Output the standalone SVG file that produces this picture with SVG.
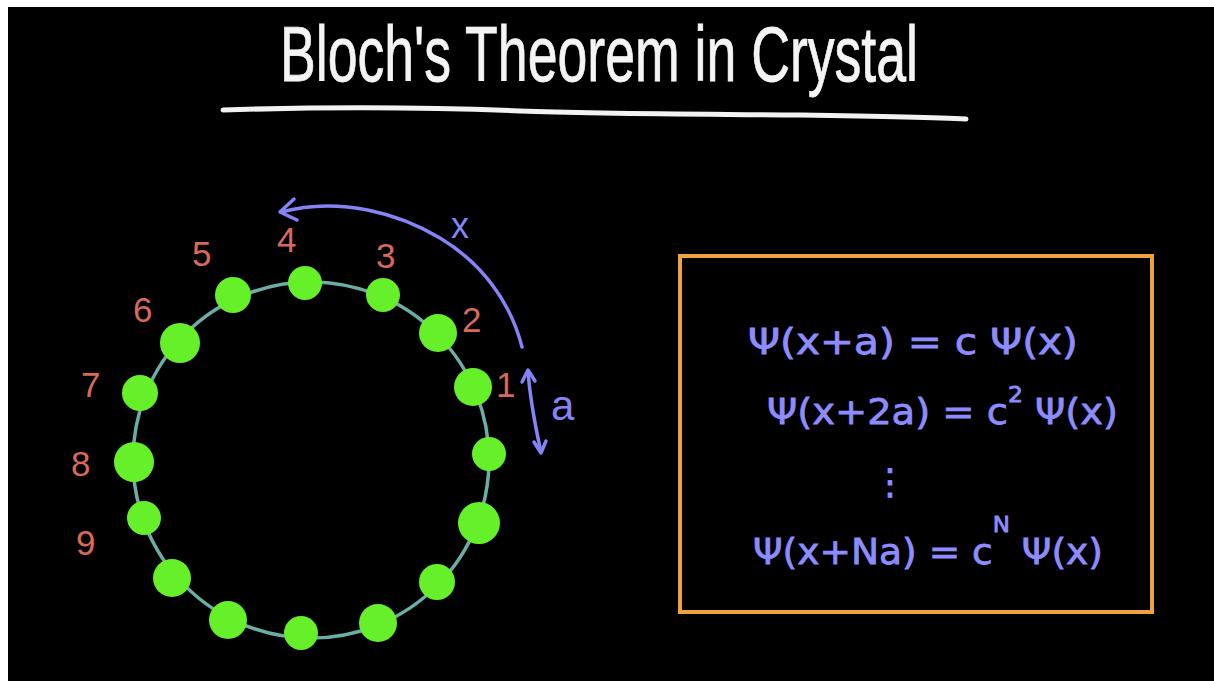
<svg xmlns="http://www.w3.org/2000/svg" width="1214" height="681" viewBox="0 0 1214 681">
<style>
.num{font-family:"Liberation Sans",sans-serif;font-size:35px;fill:#d86a5c}
.eq{font-family:"DejaVu Sans","Liberation Sans",sans-serif;font-size:36px;fill:#8d8cff;stroke:#8d8cff;stroke-width:0.8}
.sup{font-size:22px}
.dot{fill:#66f02a}
.blue{fill:none;stroke:#8583f5;stroke-width:3.5;stroke-linecap:round;stroke-linejoin:round}
</style>
<rect x="0" y="0" width="1214" height="681" fill="#ffffff"/>
<rect x="8" y="7" width="1206" height="674" fill="#000000"/>
<g id="title">
<text x="280" y="81" font-family="Liberation Sans Narrow,Liberation Sans,sans-serif" font-size="78" fill="#f4f4f4" stroke="#f4f4f4" stroke-width="0.8" textLength="638" lengthAdjust="spacingAndGlyphs">Bloch's Theorem in Crystal</text>
<path d="M223 110 C350 106 450 108 520 111 C600 114 700 114 800 115 C870 116 930 117 966 119" fill="none" stroke="#f2f2f2" stroke-width="5" stroke-linecap="round"/>
</g>
<g id="ring">
<circle cx="311" cy="460" r="178" fill="none" stroke="#6aaea6" stroke-width="3.5"/>
</g>
<g id="atoms">
<circle class="dot" cx="233" cy="295" r="18"/>
<circle class="dot" cx="305" cy="283" r="17"/>
<circle class="dot" cx="383" cy="295" r="17"/>
<circle class="dot" cx="438" cy="333" r="19"/>
<circle class="dot" cx="473" cy="387" r="19"/>
<circle class="dot" cx="489" cy="454" r="17"/>
<circle class="dot" cx="479" cy="523" r="21"/>
<circle class="dot" cx="437" cy="582" r="18"/>
<circle class="dot" cx="378" cy="623" r="19"/>
<circle class="dot" cx="301" cy="633" r="17"/>
<circle class="dot" cx="228" cy="620" r="19"/>
<circle class="dot" cx="172" cy="578" r="19"/>
<circle class="dot" cx="144" cy="518" r="17"/>
<circle class="dot" cx="134" cy="462" r="20"/>
<circle class="dot" cx="140" cy="393" r="18"/>
<circle class="dot" cx="180" cy="343" r="20"/>
</g>
<g id="labels">
<text class="num" x="496" y="397">1</text>
<text class="num" x="462" y="332">2</text>
<text class="num" x="376" y="268">3</text>
<text class="num" x="277" y="252">4</text>
<text class="num" x="192" y="266">5</text>
<text class="num" x="133" y="322">6</text>
<text class="num" x="81" y="397">7</text>
<text class="num" x="71" y="476">8</text>
<text class="num" x="76" y="555">9</text>
</g>
<g id="connectors">
<path class="blue" d="M522 347 C510 300 480 262 440 238 C400 214 340 196 281 212"/>
<path class="blue" d="M294 199 L280 212 L297 220"/>
<path class="blue" d="M528 371 C530 398 535 425 541 452"/>
<path class="blue" d="M522 382 L528 370 L535 381"/>
<path class="blue" d="M534 442 L541 453 L546 441"/>
<text x="451" y="238" font-family="Liberation Sans,sans-serif" font-size="36" fill="#8583f5">x</text>
<text x="551" y="420" font-family="Liberation Sans,sans-serif" font-size="42" fill="#8583f5">a</text>
</g>
<g id="box">
<rect x="680" y="256" width="472" height="356" fill="none" stroke="#f0a23c" stroke-width="4"/>
<text class="eq" x="748" y="354" font-size="38" textLength="330" lengthAdjust="spacingAndGlyphs">Ψ(x+a) = c Ψ(x)</text>
<text class="eq" x="767" y="424" textLength="351" lengthAdjust="spacingAndGlyphs">Ψ(x+2a) = c<tspan class="sup" dy="-22">2</tspan><tspan dy="22"> Ψ(x)</tspan></text>
<text class="eq" x="872" y="494" font-size="32">⋮</text>
<text class="eq" x="753" y="564" textLength="350" lengthAdjust="spacingAndGlyphs">Ψ(x+Na) = c<tspan class="sup" dy="-32">N</tspan><tspan dy="32"> Ψ(x)</tspan></text>
</g>
</svg>
